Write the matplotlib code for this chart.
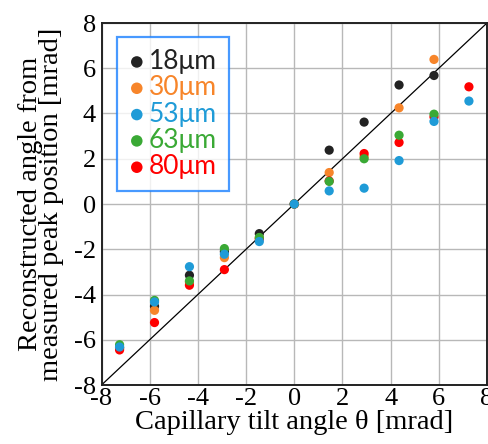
import matplotlib
matplotlib.use("Agg")
import matplotlib.pyplot as plt
import numpy as np

plt.rcParams["font.family"] = ["Liberation Serif", "DejaVu Serif"]
plt.rcParams["axes.unicode_minus"] = False

# Data
tilt = [-7.25, -5.8, -4.35, -2.9, -1.45, 0.0, 1.45, 2.9, 4.35, 5.8, 7.25]
series_labels = ["18μm", "30μm", "53μm", "63μm", "80μm"]
colors = ["#222222", "#f7852a", "#1f9bd7", "#3aa935", "#ff0000"]
y18 = [-6.35, -4.52, -3.15, -2.10, -1.31, 0.0, 2.38, 3.62, 5.26, 5.68, None]
y30 = [-6.38, -4.70, -3.45, -2.37, -1.50, 0.0, 1.39, 2.10, 4.25, 6.39, None]
y53 = [-6.32, -4.33, -2.77, -2.22, -1.66, 0.0, 0.58, 0.70, 1.92, 3.65, 4.55]
y63 = [-6.22, -4.26, -3.40, -1.97, -1.48, 0.0, 1.00, 2.00, 3.04, 3.97, None]
y80 = [-6.45, -5.24, -3.59, -2.90, -1.55, 0.0, 1.02, 2.23, 2.72, 3.85, 5.18]
series = [y18, y30, y53, y63, y80]
ticks = [-8, -6, -4, -2, 0, 2, 4, 6, 8]

fig = plt.figure(figsize=(4.89, 4.44), dpi=100)
ax = fig.add_axes([101.5/489, 1 - 385/444, 385.5/489, 362/444])

ax.plot([-8, 8], [-8, 8], color="black", lw=0.9, zorder=2)

order = [0, 1, 4, 3, 2]
handles = {}
for i in order:
    xs = [x for x, y in zip(tilt, series[i]) if y is not None]
    ys = [y for y in series[i] if y is not None]
    handles[i] = ax.scatter(xs, ys, s=44, color=colors[i], edgecolors="none", zorder=3, label=series_labels[i])

ax.set_xlim(-8, 8)
ax.set_ylim(-8, 8)
ax.set_xticks(ticks)
ax.set_yticks(ticks)
ax.set_xticklabels([str(t) for t in ticks], fontfamily="Liberation Serif", fontsize=19)
ax.set_yticklabels([str(t) for t in ticks], fontfamily="Liberation Serif", fontsize=19)
ax.grid(True, color="#b8b8b8", lw=1.0, zorder=0)
ax.set_axisbelow(True)
ax.tick_params(length=0)
ax.tick_params(axis="x", pad=2)
ax.tick_params(axis="y", pad=4)
for sp in ax.spines.values():
    sp.set_linewidth(1.4)
    sp.set_color("#222222")

ax.set_xlabel("Capillary tilt angle θ [mrad]", fontsize=20.5, labelpad=0)
ax.set_ylabel("Reconstructed angle from\nmeasured peak position [mrad]", fontsize=20.5,
              linespacing=0.82, labelpad=7)

leg = ax.legend([handles[i] for i in range(5)], series_labels, loc="upper left",
                bbox_to_anchor=(15.5/385.5, 1 - 14/362), frameon=True, fancybox=False,
                prop={"family": "Lato", "size": 19}, handletextpad=0.15,
                handlelength=0.6, borderpad=0.45, labelspacing=0.05, markerscale=1.25,
                borderaxespad=0)
leg.get_frame().set_edgecolor("#1a80ff")
leg.get_frame().set_linewidth(1.6)
for t, c in zip(leg.get_texts(), colors):
    t.set_color(c)

fig.savefig("out.png", dpi=100)
